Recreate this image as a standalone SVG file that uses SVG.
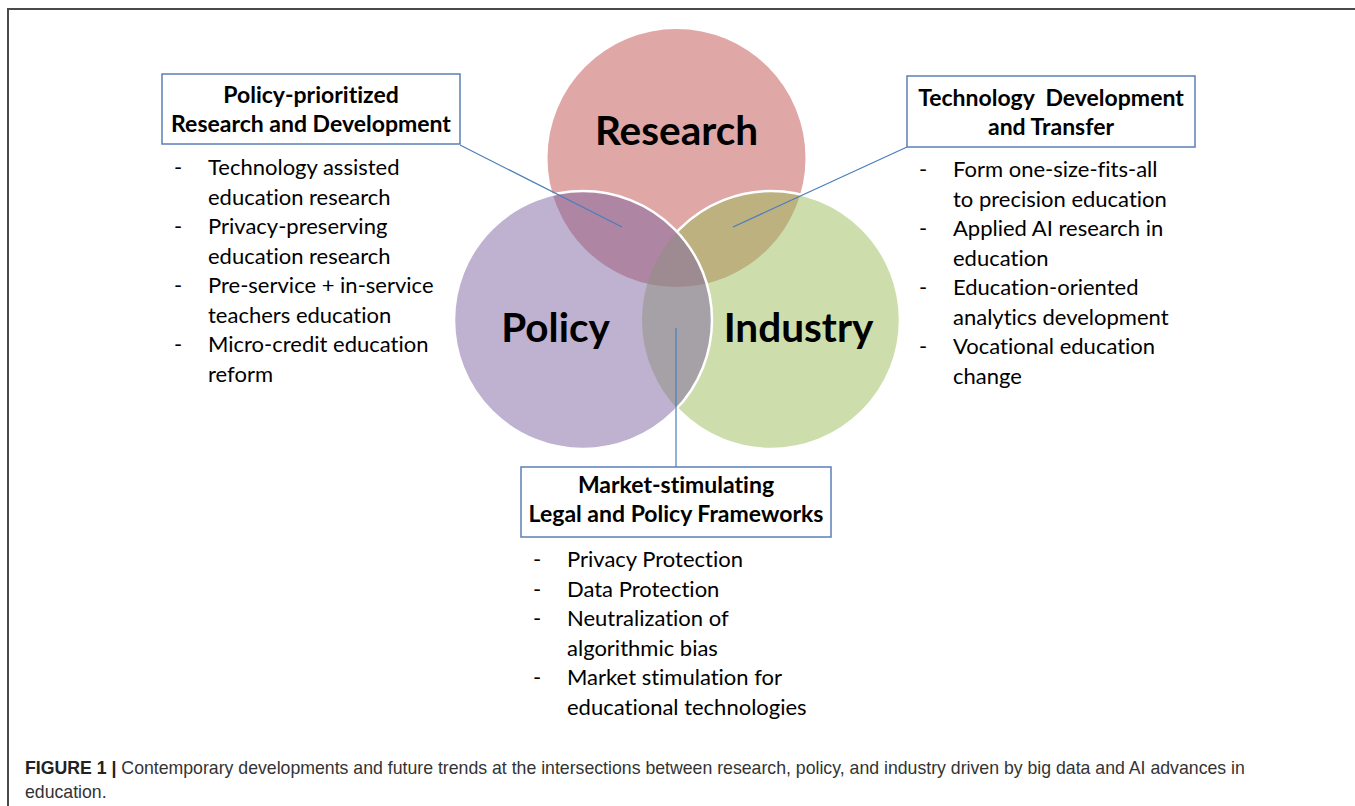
<svg xmlns="http://www.w3.org/2000/svg" width="1355" height="806" viewBox="0 0 1355 806">
<style>
text{font-variant-ligatures:none}
.hdr{font-family:Lato,"Liberation Sans",sans-serif;font-weight:bold;font-size:23px;fill:#000;text-anchor:middle}
.big{font-family:Lato,"Liberation Sans",sans-serif;font-weight:bold;font-size:40.5px;fill:#000}
.li{font-family:Lato,"Liberation Sans",sans-serif;font-size:22px;fill:#000}
.box{fill:#fff;stroke:#5b80b8;stroke-width:1.5}
.con{stroke:#4a7ebb;stroke-width:1.2;fill:none}
.cap{font-family:"Liberation Sans",Arial,sans-serif;font-size:17.7px;fill:#333}
</style>
<defs>
<clipPath id="outP"><path clip-rule="evenodd" d="M0 0H1355V806H0Z M454 320a129 129 0 1 0 258 0a129 129 0 1 0 -258 0Z"/></clipPath>
</defs>
<rect x="0" y="0" width="1355" height="806" fill="#fff"/>
<path d="M8 806V9H1355" fill="none" stroke="#4a4a4a" stroke-width="2"/>
<g id="venn">
<g id="research"><circle cx="676.5" cy="158" r="129" fill="#c0504d" fill-opacity="0.5"/></g>
<g id="industry"><circle cx="771" cy="320" r="129" fill="#9bbb59" fill-opacity="0.5"/><circle cx="771" cy="320" r="129" fill="none" stroke="#fff" stroke-width="2.5" clip-path="url(#outP)"/></g>
<g id="policy"><circle cx="583" cy="320" r="129" fill="#8064a2" fill-opacity="0.5" stroke="#fff" stroke-width="2.5"/></g>
<text class="big" x="676.5" y="145" text-anchor="middle">Research</text>
<text class="big" x="555.5" y="342" text-anchor="middle">Policy</text>
<text class="big" x="798.5" y="342" text-anchor="middle">Industry</text>
</g>
<g id="connectors">
<line class="con" x1="460" y1="145" x2="622" y2="227"/>
<line class="con" x1="907" y1="147" x2="733" y2="227"/>
<line class="con" x1="676" y1="328" x2="676" y2="467"/>
</g>
<g id="box-policy-rd">
<rect class="box" x="162" y="74" width="298" height="70"/>
<text class="hdr" x="311" y="103">Policy-prioritized</text>
<text class="hdr" x="311" y="132">Research and Development</text>
</g>
<g id="box-tech">
<rect class="box" x="907" y="76" width="288" height="71"/>
<text class="hdr" x="1051" y="106" xml:space="preserve">Technology  Development</text>
<text class="hdr" x="1051" y="135">and Transfer</text>
</g>
<g id="box-market">
<rect class="box" x="521" y="467" width="310" height="70"/>
<text class="hdr" x="676" y="493">Market-stimulating</text>
<text class="hdr" x="676" y="522">Legal and Policy Frameworks</text>
</g>
<g id="list-left" class="li">
<text x="174" y="175">-</text><text x="208" y="175">Technology assisted</text>
<text x="208" y="204.5">education research</text>
<text x="174" y="234">-</text><text x="208" y="234">Privacy-preserving</text>
<text x="208" y="263.5">education research</text>
<text x="174" y="293">-</text><text x="208" y="293">Pre-service + in-service</text>
<text x="208" y="322.5">teachers education</text>
<text x="174" y="352">-</text><text x="208" y="352">Micro-credit education</text>
<text x="208" y="381.5">reform</text>
</g>
<g id="list-right" class="li">
<text x="919" y="177">-</text><text x="953" y="177">Form one-size-fits-all</text>
<text x="953" y="206.5">to precision education</text>
<text x="919" y="236">-</text><text x="953" y="236">Applied AI research in</text>
<text x="953" y="265.5">education</text>
<text x="919" y="295">-</text><text x="953" y="295">Education-oriented</text>
<text x="953" y="324.5">analytics development</text>
<text x="919" y="354">-</text><text x="953" y="354">Vocational education</text>
<text x="953" y="383.5">change</text>
</g>
<g id="list-bottom" class="li">
<text x="533" y="567">-</text><text x="567" y="567">Privacy Protection</text>
<text x="533" y="596.5">-</text><text x="567" y="596.5">Data Protection</text>
<text x="533" y="626">-</text><text x="567" y="626">Neutralization of</text>
<text x="567" y="655.5">algorithmic bias</text>
<text x="533" y="685">-</text><text x="567" y="685">Market stimulation for</text>
<text x="567" y="714.5">educational technologies</text>
</g>
<g id="caption">
<text class="cap" x="25" y="774"><tspan font-weight="bold" fill="#222">FIGURE 1 |</tspan> Contemporary developments and future trends at the intersections between research, policy, and industry driven by big data and AI advances in</text>
<text class="cap" x="25" y="798">education.</text>
</g>
</svg>
